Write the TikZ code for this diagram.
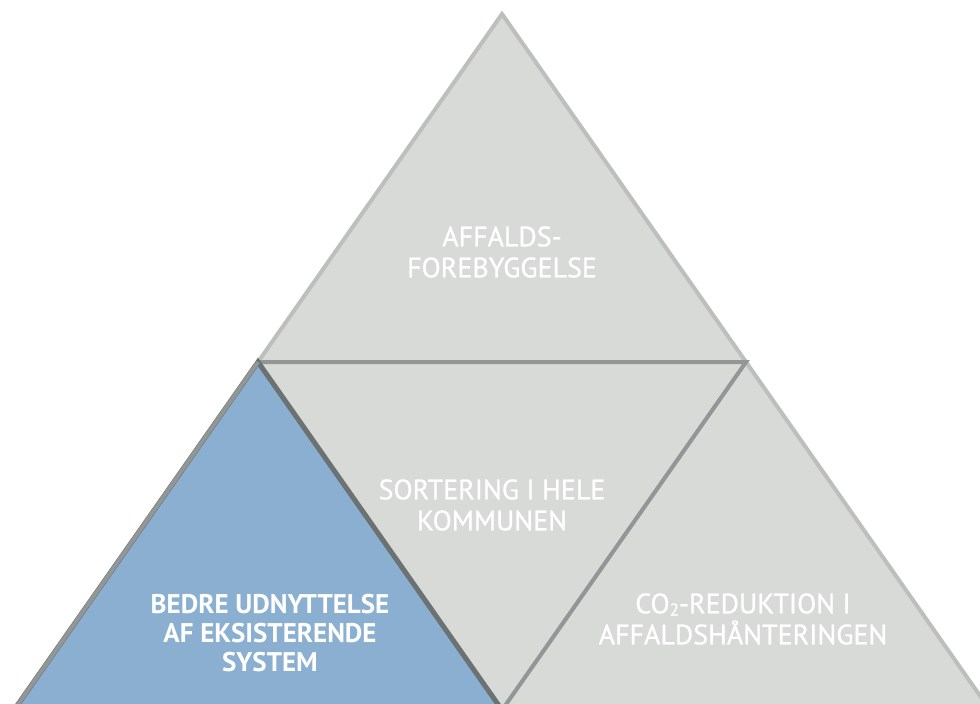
\documentclass[tikz,border=0pt]{standalone}
\usepackage{fontspec}
\setmainfont{PT Sans}
\newfontfamily\semibold[FakeBold=0.9]{PT Sans}
\usetikzlibrary{positioning}
\definecolor{greyfill}{RGB}{216,218,216}
\definecolor{greyedge}{RGB}{189,191,190}
\definecolor{midedge}{RGB}{146,150,150}
\definecolor{darkedge}{RGB}{108,113,114}
\definecolor{bluefill}{RGB}{138,175,208}

\begin{document}
\begin{tikzpicture}[x=1pt, y=-1pt, line join=miter,
    label/.style={text=white, align=center, font=\semibold\fontsize{28}{31}\selectfont}]
        \useasboundingbox (0,0) rectangle (980,704);
        \clip (0,0) rectangle (980,704);
        % corners
        \coordinate (top) at (502,14);
        \coordinate (left) at (258,362);
        \coordinate (right) at (746,362);
        \coordinate (bottom) at (502,710);
        \coordinate (baseL) at (14,710);
        \coordinate (baseR) at (990,710);

        \filldraw [fill=greyfill, draw=greyedge, line width=4pt] (top) -- (left) -- (right) -- cycle;
        \filldraw [fill=greyfill, draw=greyedge, line width=4pt] (right) -- (bottom) -- (baseR) -- cycle;
        \fill [greyfill] (left) -- (right) -- (bottom) -- cycle;
        \draw [midedge, line width=4pt] (left) -- (right) -- (bottom);
        \filldraw [fill=bluefill, draw=darkedge, line width=5pt] (left) -- (bottom) -- (baseL) -- cycle;
        \draw [midedge, line width=4pt] (baseL) -- (left);

        \node [label] (prevent) at (502,252) {AFFALDS-\\FOREBYGGELSE};
        \node [label] (sorting) at (492,505) {SORTERING I HELE\\KOMMUNEN};
        \node [label, font=\fontsize{27}{29}\selectfont\bfseries] (reuse) at (270,633) {BEDRE UDNYTTELSE\\AF EKSISTERENDE\\SYSTEM};
        \node [label] (co2) at (743,619) {CO\raisebox{-0.08em}{\fontsize{17}{17}\selectfont 2}-REDUKTION I\\AFFALDSHÅNTERINGEN};
    \end{tikzpicture}
\end{document}
